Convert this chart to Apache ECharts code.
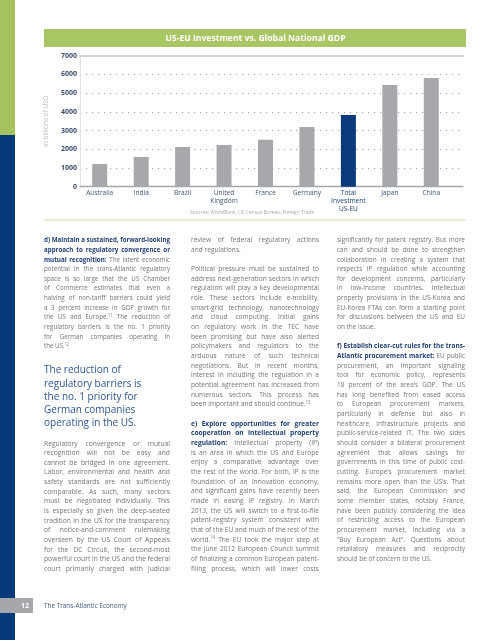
<!DOCTYPE html>
<html><head><meta charset="utf-8">
<script src="https://cdn.jsdelivr.net/npm/echarts@6/dist/echarts.min.js"></script>
<style>
html,body{margin:0;padding:0;width:495px;height:640px;overflow:hidden;background:#fff;}
#chart{position:absolute;left:0;top:0;width:495px;height:640px;}
#text{position:absolute;left:0;top:0;width:495px;height:640px;pointer-events:none;}
.col{position:absolute;font-family:'Open Sans',sans-serif;font-size:7.8px;color:#727478;transform-origin:0 0;}
.l{height:9.67px;line-height:9.67px;white-space:nowrap;}
.col b{font-weight:bold;color:#1f3f74;}
sup{font-size:4.8px;vertical-align:baseline;position:relative;top:-2.6px;line-height:0;}
.pq{font-size:10px;color:#2a5590;}
.pq .l{height:13.15px;line-height:13.15px;}
.foot{position:absolute;left:44px;top:600px;font-family:'Open Sans',sans-serif;font-size:6.4px;color:#3e5a82;line-height:11px;}
</style></head>
<body>
<div id="chart"></div>
<div id="text"></div>
<script>
// ---- chart data ----
const categories = ['Australia','India','Brazil','United\nKingdom','France','Germany','Total\nInvestment\nUS-EU','Japan','China'];
const gdpValues = [1210, 1590, 2120, 2230, 2510, 3190, 3830, 5440, 5810];
const highlightCategory = 'Total\nInvestment\nUS-EU';
const yMin = 0, yMax = 7000, yInterval = 1000;
const chartTitle = 'US-EU Investment vs. Global National GDP';
const yAxisName = 'in billions of USD';
const sourceNote = 'Sources: WorldBank, US Census Bureau, Foreign Trade';

const chart = echarts.init(document.getElementById('chart'), null, {renderer:'canvas'});
const FONT = "'Open Sans', sans-serif";
chart.setOption({
  animation:false,
  textStyle:{fontFamily:FONT},
  grid:[
    {left:80, top:55.7, width:383, height:131},
    {left:79, top:55.7, width:373, height:131}
  ],
  xAxis:[
    {gridIndex:0, type:'value', min:0, max:1, position:'bottom',
     axisLine:{show:true, lineStyle:{color:'#a3a6aa', width:1.3}}, axisTick:{show:false}, axisLabel:{show:false}, splitLine:{show:false}},
    {gridIndex:0, type:'value', min:0, max:1, position:'top',
     axisLine:{show:true, lineStyle:{color:'#d2d2d2', width:2}}, axisTick:{show:false}, axisLabel:{show:false}, splitLine:{show:false}},
    {gridIndex:1, type:'category', data:categories.map(c=>({value:c, textStyle:{color: c===highlightCategory ? '#1d3f78' : '#3f5675'}})),
     axisLine:{show:false}, axisTick:{show:false},
     axisLabel:{interval:0, margin:3, fontSize:6.6, lineHeight:7.7, fontFamily:FONT}}
  ],
  yAxis:[
    {gridIndex:0, type:'value', min:yMin, max:yMax, interval:yInterval,
     name:yAxisName, nameLocation:'middle', nameGap:22,
     nameTextStyle:{fontSize:6.5, color:'#b7bcc6', fontFamily:FONT},
     axisLine:{show:true, lineStyle:{color:'#e3e3e3', width:1}}, axisTick:{show:false},
     axisLabel:{fontSize:7, fontWeight:'bold', color:'#3e4f6c', margin:3, fontFamily:FONT, formatter:v=>String(v)},
     splitLine:{show:true, lineStyle:{type:[1.2,4.8], color:'#a4a8b0', width:1.2}}},
    {gridIndex:1, type:'value', min:yMin, max:yMax, show:false}
  ],
  series:[{
    type:'bar', xAxisIndex:2, yAxisIndex:1, barWidth:15,
    data:gdpValues.map((v,i)=>({value:v, itemStyle:{color: categories[i]===highlightCategory ? '#0b3a7c' : '#a6a8ab'}}))
  }],
  graphic:[
    {type:'rect', shape:{x:0,y:0,width:15,height:135}, style:{fill:'#a6c25f'}},
    {type:'rect', shape:{x:0,y:135,width:15,height:505}, style:{fill:'#073a7a'}},
    {type:'rect', shape:{x:0,y:598,width:33,height:15}, style:{fill:'#a5a7aa'}},
    {type:'text', x:25, y:605.5, style:{text:'12', fill:'#fff', font:'bold 7px '+FONT, align:'center', verticalAlign:'middle'}},
    {type:'rect', shape:{x:44,y:29,width:422,height:18}, style:{fill:'#a9c665'}},
    {type:'text', x:255.5, y:38.3, style:{text:chartTitle, fill:'#fff', font:'bold 8.6px '+FONT, align:'center', verticalAlign:'middle'}},
    {type:'text', x:252, y:213, style:{text:sourceNote, fill:'#a7a9ad', font:'4.9px '+FONT, align:'center', verticalAlign:'middle'}},
    {type:'rect', shape:{x:44,y:219.5,width:422,height:1}, style:{fill:'#cbdba4'}}
  ]
});

// ---- page text ----
const col1a = [
 '<b>d) Maintain a sustained, forward-looking</b>',
 '<b>approach to regulatory convergence or</b>',
 '<b>mutual recognition:</b> The latent economic',
 'potential in the trans-Atlantic regulatory',
 'space is so large that the US Chamber',
 'of Commerce estimates that even a',
 'halving of non-tariff barriers could yield',
 'a 3 percent increase in GDP growth for',
 'the US and Europe.<sup>11</sup> The reduction of',
 'regulatory barriers is the no. 1 priority',
 'for German companies operating in',
 'the US.<sup>12</sup>|'
];
const pullQuote = ['The reduction of|','regulatory barriers is|','the no. 1 priority for|','German companies|','operating in the US.|'];
const col1b = [
 'Regulatory convergence or mutual',
 'recognition will not be easy and',
 'cannot be bridged in one agreement.',
 'Labor, environmental and health and',
 'safety standards are not sufficiently',
 'comparable. As such, many sectors',
 'must be negotiated individually. This',
 'is especially so given the deep-seated',
 'tradition in the US for the transparency',
 'of notice-and-comment rulemaking',
 'overseen by the US Court of Appeals',
 'for the DC Circuit, the second-most',
 'powerful court in the US and the federal',
 'court primarily charged with judicial'
];
const col2 = [
 'review of federal regulatory actions',
 'and regulations.|',
 '',
 'Political pressure must be sustained to',
 'address next-generation sectors in which',
 'regulation will play a key developmental',
 'role. These sectors include e-mobility,',
 'smart-grid technology, nanotechnology',
 'and cloud computing. Initial gains',
 'on regulatory work in the TEC have',
 'been promising but have also alerted',
 'policymakers and regulators to the',
 'arduous nature of such technical',
 'negotiations. But in recent months,',
 'interest in including the regulation in a',
 'potential agreement has increased from',
 'numerous sectors. This process has',
 'been important and should continue.<sup>13</sup>|',
 '',
 '<b>e) Explore opportunities for greater</b>',
 '<b>cooperation on intellectual property</b>',
 '<b>regulation:</b> Intellectual property (IP)',
 'is an area in which the US and Europe',
 'enjoy a comparative advantage over',
 'the rest of the world. For both, IP is the',
 'foundation of an innovation economy,',
 'and significant gains have recently been',
 'made in easing IP registry. In March',
 '2013, the US will switch to a first-to-file',
 'patent-registry system consistent with',
 'that of the EU and much of the rest of the',
 'world.<sup>14</sup> The EU took the major step at',
 'the June 2012 European Council summit',
 'of finalizing a common European patent-',
 'filing process, which will lower costs'
];
const col3 = [
 'significantly for patent registry. But more',
 'can and should be done to strengthen',
 'collaboration in creating a system that',
 'respects IP regulation while accounting',
 'for development concerns, particularly',
 'in low-income countries. Intellectual',
 'property provisions in the US-Korea and',
 'EU-Korea FTAs can form a starting point',
 'for discussions between the US and EU',
 'on the issue.|',
 '',
 '<b>f) Establish clear-cut rules for the trans-</b>',
 '<b>Atlantic procurement market:</b> EU public',
 'procurement, an important signaling',
 'tool for economic policy, represents',
 '18 percent of the area\u2019s GDP. The US',
 'has long benefited from eased access',
 'to European procurement markets,',
 'particularly in defense but also in',
 'healthcare, infrastructure projects and',
 'public-service-related IT. The two sides',
 'should consider a bilateral procurement',
 'agreement that allows savings for',
 'governments in this time of public cost-',
 'cutting. Europe\u2019s procurement market',
 'remains more open than the US\u2019s. That',
 'said, the European Commission and',
 'some member states, notably France,',
 'have been publicly considering the idea',
 'of restricting access to the European',
 'procurement market, including via a',
 '\u201cBuy European Act\u201d. Questions about',
 'retaliatory measures and reciprocity',
 'should be of concern to the US.|'
];

function buildCol(left, top, width, lines, extraClass){
  const c = document.createElement('div');
  c.className = 'col' + (extraClass ? ' '+extraClass : '');
  c.style.left = left+'px'; c.style.top = top+'px';
  document.getElementById('text').appendChild(c);
  const items = [];
  lines.forEach(s=>{
    const d = document.createElement('div'); d.className='l';
    if(s===''){ d.innerHTML='&nbsp;'; c.appendChild(d); return; }
    const last = s.endsWith('|'); if(last) s = s.slice(0,-1);
    const sp = document.createElement('span'); sp.innerHTML = s; sp.style.whiteSpace='nowrap';
    d.appendChild(sp); c.appendChild(d);
    items.push({sp, last});
  });
  let maxW = 0;
  items.forEach(it=>{ it.w = it.sp.getBoundingClientRect().width; if(it.w>maxW) maxW=it.w; });
  const sc = Math.min(1, width/maxW); const inner = width/sc;
  c.style.width = inner+'px'; c.style.transform = 'scaleX('+sc+')';
  items.forEach(it=>{
    if(!it.last){
      const n = (it.sp.textContent.match(/ /g)||[]).length;
      if(n) it.sp.style.wordSpacing = ((inner-it.w)/n)+'px';
    }
  });
}
buildCol(44, 235.2, 126, col1a);
buildCol(44, 363.4, 102, pullQuote, 'pq');
buildCol(44, 438.5, 126, col1b);
buildCol(191, 235.2, 128, col2);
buildCol(337, 235.2, 128, col3);
const f = document.createElement('div'); f.className='foot'; f.textContent='The Trans-Atlantic Economy';
document.getElementById('text').appendChild(f);
</script>
</body></html>
